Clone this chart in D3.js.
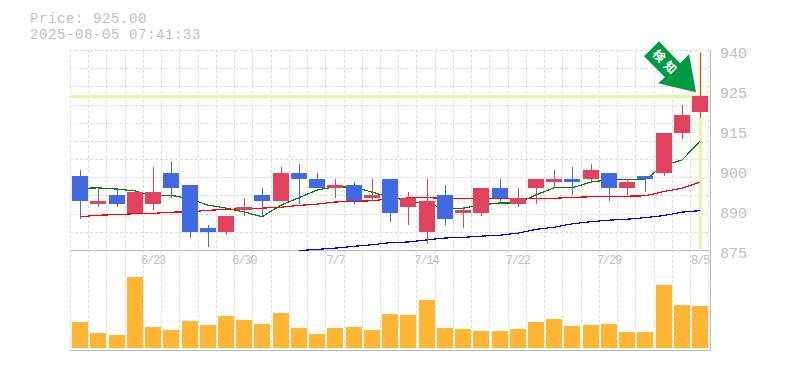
<!DOCTYPE html>
<html>
<head>
<meta charset="utf-8">
<script src="https://cdnjs.cloudflare.com/ajax/libs/d3/7.8.5/d3.min.js"></script>
<style>
  html, body { margin: 0; padding: 0; background: #fff; }
  svg { display: block; }
</style>
</head>
<body>
<div id="chart"></div>
<script>
const dates = ["6/17","6/18","6/19","6/20","6/23","6/24","6/25","6/26","6/27","6/30","7/1","7/2","7/3","7/4","7/7","7/8","7/9","7/10","7/11","7/14","7/15","7/16","7/17","7/18","7/22","7/23","7/24","7/25","7/28","7/29","7/30","7/31","8/1","8/4","8/5"];
const opens  = [899,890,893,887,890,900,896,882,881,888,893,891,900,898,895,896,892,898,889,881,893,887,887,895,890,895,897,898,898,900,895,899,900,913,920];
const closes = [891,891,890,894,894,895,881,881,886,889,891,900,898,895,896,891,893,887,892,891,885,888,895,892,892,898,898,897,901,895,897,898,913,919,925];
const highs  = [901,895,895,894,902,904,896,883,886,892,895,902,903,900,898,897,898,898,894,898,896,889,895,898,895,898,901,902,903,900,898,899,913,922,939];
const lows   = [885,889,889,887,888,892,879,876,880,886,886,891,890,895,892,890,891,884,883,877,883,882,886,890,889,890,895,893,897,891,893,894,899,911,918];
const ma5  = [895.0,895.2,894.8,894.2,892.6,892.8,891.6,889.6,888.6,887.4,885.8,889.6,892.0,894.5,895.5,895.5,893.8,892.2,891.0,890.0,888.6,888.6,889.6,890.3,890.3,892.9,895.2,895.2,897.1,897.8,897.8,897.8,902.6,904.2,910.4];
const ma25 = [885.8,886.3,886.5,886.8,886.9,887.3,887.4,887.9,888.2,888.4,888.6,888.9,889.5,889.9,890.6,890.8,891.0,891.6,891.9,892.0,891.8,891.8,891.8,891.8,891.5,891.8,891.8,892.1,892.3,892.5,892.5,892.6,894.0,895.1,897.0];
const ma75 = [null,null,null,null,null,null,null,null,null,null,null,null,874.8,875.2,875.6,876.2,876.7,877.4,877.6,878.3,878.9,879.1,879.5,879.8,880.5,881.7,882.4,883.5,884.2,884.7,885.0,885.5,886.2,887.3,887.8];
const volumes = [2600,1500,1300,7100,2100,1800,2700,2300,3200,2800,2400,3500,2000,1400,2000,2100,1800,3400,3300,4800,2000,1900,1700,1700,1900,2600,2900,2200,2300,2400,1600,1600,6300,4300,4200];
const yTicks = [940,927,914,901,888,875];
const yLabels = ["940","925","915","900","890","875"];
const xLabels = ["6/23","6/30","7/7","7/14","7/22","7/29","8/5"];
const lastPrice = 925;
const titleLines = ["Price: 925.00","2025-08-05 07:41:33"];

const width = 785, height = 370;
const plotL = 70, plotR = 710, plotT = 50, plotM = 250, plotB = 350, volBase = 348;
const step = 18.235;
const mono = "'Liberation Mono', monospace";
const upColor = "#e2425f", downColor = "#4169e1", volColor = "#ffb733";
const axisGray = "#bcbcbc", textGray = "#c0c0c0", gridGray = "#dcdcdc", hiLine = "#e4f5a6";

const svg = d3.select("#chart").append("svg")
    .attr("width", width)
    .attr("height", height);

const x = d3.scaleBand().domain(dates).range([plotL + 1, plotL + 1 + step * dates.length]);
const y = d3.scaleLinear().domain([875, 940]).range([plotM, plotT]);
const yVol = d3.scaleLinear().domain([0, 7100]).range([volBase, volBase - 71]);
const cx = d => Math.round(x(d) + 9.1);

// title
svg.append("g").selectAll("text").data(titleLines).enter().append("text")
    .attr("x", 30)
    .attr("y", (d, i) => 22.5 + i * 16)
    .attr("fill", textGray)
    .style("font-family", mono)
    .style("font-size", "14px")
    .style("letter-spacing", "0.6px")
    .text(d => d);

// grid
const grid = svg.append("g")
    .attr("stroke", gridGray)
    .attr("stroke-dasharray", "3,2")
    .attr("shape-rendering", "crispEdges");
grid.selectAll("line.h").data(d3.range(11)).enter().append("line")
    .attr("class", "h")
    .attr("x1", plotL).attr("x2", plotR)
    .attr("y1", i => Math.round(plotT + i * 200 / 11) + 0.5)
    .attr("y2", i => Math.round(plotT + i * 200 / 11) + 0.5);
grid.selectAll("line.v").data(d3.range(dates.length + 1)).enter().append("line")
    .attr("class", "v")
    .attr("y1", plotT).attr("y2", plotB)
    .attr("x1", i => Math.round(plotL + i * step) + 0.5)
    .attr("x2", i => Math.round(plotL + i * step) + 0.5);

// frame
const frame = svg.append("g")
    .attr("stroke", axisGray)
    .attr("shape-rendering", "crispEdges");
frame.append("line").attr("x1", plotL).attr("x2", plotR + 1).attr("y1", plotM + 0.5).attr("y2", plotM + 0.5);
frame.append("line").attr("x1", plotL).attr("x2", plotR + 1).attr("y1", plotB + 0.5).attr("y2", plotB + 0.5);
frame.append("line").attr("x1", plotR + 0.5).attr("x2", plotR + 0.5).attr("y1", plotT).attr("y2", plotB);

// current price cross
svg.append("rect")
    .attr("x", plotL).attr("width", plotR - plotL)
    .attr("y", Math.round(y(lastPrice)) - 1).attr("height", 3)
    .attr("fill", hiLine);
svg.append("rect")
    .attr("x", cx(dates[dates.length - 1]) - 1).attr("width", 3)
    .attr("y", plotT + 2).attr("height", plotM - plotT - 3)
    .attr("fill", hiLine);

// moving averages
const maLine = d3.line()
    .defined(d => d.v !== null)
    .x(d => cx(d.date))
    .y(d => y(d.v));
[[ma5, "#008000"], [ma25, "#ff0000"], [ma75, "#0000ff"]].forEach(([vals, color]) => {
  svg.append("path")
      .attr("d", maLine(vals.map((v, i) => ({ date: dates[i], v }))))
      .attr("fill", "none")
      .attr("stroke", color)
      .attr("stroke-width", 1.2)
      .attr("shape-rendering", "crispEdges");
});

// candles
const candles = svg.append("g").attr("shape-rendering", "crispEdges")
    .selectAll("g").data(dates).enter().append("g");
const candleColor = (d, i) => closes[i] >= opens[i] ? upColor : downColor;
candles.append("line")
    .attr("x1", d => cx(d) + 0.5).attr("x2", d => cx(d) + 0.5)
    .attr("y1", (d, i) => y(highs[i]))
    .attr("y2", (d, i) => y(lows[i]))
    .attr("stroke", candleColor);
candles.append("rect")
    .attr("x", d => cx(d) - 8)
    .attr("width", 16)
    .attr("y", (d, i) => y(Math.max(opens[i], closes[i])))
    .attr("height", (d, i) => Math.abs(y(opens[i]) - y(closes[i])))
    .attr("fill", candleColor);

// volume
svg.append("g").attr("shape-rendering", "crispEdges")
    .selectAll("rect").data(dates).enter().append("rect")
    .attr("x", d => cx(d) - 8)
    .attr("width", 16)
    .attr("y", (d, i) => yVol(volumes[i]))
    .attr("height", (d, i) => volBase - yVol(volumes[i]))
    .attr("fill", volColor);

// axes
const yAxis = d3.axisRight(y)
    .tickValues(yTicks)
    .tickFormat((d, i) => yLabels[i])
    .tickSize(0)
    .tickPadding(10);
const gy = svg.append("g").attr("transform", `translate(${plotR},3)`).call(yAxis);
gy.select(".domain").remove();
gy.selectAll("text")
    .attr("fill", textGray)
    .style("font-family", mono)
    .style("font-size", "15px");

const xAxis = d3.axisBottom(x)
    .tickValues(xLabels)
    .tickSize(0)
    .tickPadding(0);
const gx = svg.append("g").attr("transform", `translate(0,${plotM + 5})`).call(xAxis);
gx.select(".domain").remove();
gx.selectAll("text")
    .attr("fill", textGray)
    .style("font-family", mono)
    .style("font-size", "12px")
    .style("letter-spacing", "-1.2px");

// detection arrow, anchored on the last candle
const tipX = cx(dates[dates.length - 1]) - 4;
const tipY = y(lastPrice) - 4;
const arrow = svg.append("g").attr("transform", `translate(${tipX},${tipY})`);
arrow.append("path")
    .attr("d", "M-37,-51L-16,-29L-7,-38L0,0L-38,-9L-31,-15L-52,-36Z")
    .attr("fill", "#009944");
arrow.append("text")
    .attr("transform", "translate(-30,-29) rotate(45)")
    .attr("text-anchor", "middle")
    .attr("dy", "0.35em")
    .attr("fill", "#fff")
    .style("font-family", "'Noto Sans CJK JP'")
    .style("font-weight", "700")
    .style("font-size", "12px")
    .style("letter-spacing", "4px")
    .text("検知");
</script>
</body>
</html>
